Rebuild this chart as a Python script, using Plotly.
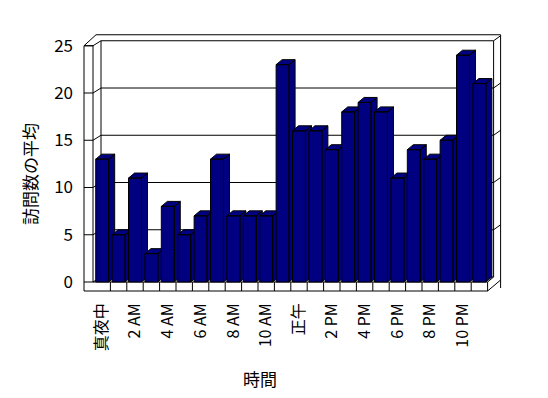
import plotly.graph_objects as go

# ---- data ----
visits = [13, 5, 11, 3, 8, 5, 7, 13, 7, 7, 7, 23,
          16, 16, 14, 18, 19, 18, 11, 14, 13, 15, 24, 21]
tick_labels = ["真夜中", "2 AM", "4 AM", "6 AM", "8 AM", "10 AM",
               "正午", "2 PM", "4 PM", "6 PM", "8 PM", "10 PM"]
y_ticks = [0, 5, 10, 15, 20, 25]
x_title = "時間"
y_title = "訪問数の平均"

# ---- style / geometry constants ----
CAT_PX = 16.4      # pixels per category
UNIT_PX = 9.45     # pixels per value unit
BAR_W = 0.79
BAR_DX = 6 / CAT_PX
BAR_DY = 5 / UNIT_PX
WALL_DX = 8 / CAT_PX
WALL_DY = 5 / UNIT_PX
NAVY = "#000080"
FONT = "Noto Sans CJK JP"

n = len(visits)
ymax = max(y_ticks)

fig = go.Figure()

# bars as 3D boxes (front, side, top), drawn left to right
for i, v in enumerate(visits):
    x0, x1 = i - BAR_W / 2, i + BAR_W / 2
    xs = [x0, x1, x1, x0, x0, None,
          x1, x1 + BAR_DX, x1 + BAR_DX, x1, x1, None,
          x0, x1, x1 + BAR_DX, x0 + BAR_DX, x0]
    ys = [0, 0, v, v, 0, None,
          0, BAR_DY, v + BAR_DY, v, 0, None,
          v, v, v + BAR_DY, v + BAR_DY, v]
    fig.add_trace(go.Scatter(x=xs, y=ys, mode="lines", fill="toself",
                             fillcolor=NAVY, line=dict(color="black", width=1),
                             hoverinfo="skip", showlegend=False))

# ---- frame (walls / floor) ----
x_wall_out = -0.5 - 10 / CAT_PX
x_wall_in = -0.5 - 1 / CAT_PX
x_back_l = x_wall_in + WALL_DX
x_floor_r = n - 0.5
x_back_r = x_floor_r + 6 / CAT_PX
x_back_r_out = x_back_r + 7 / CAT_PX
y_floor_bot = -9 / UNIT_PX
y_top_out = ymax + 11 / UNIT_PX
x_top_out_l = x_wall_out + 12 / CAT_PX

shapes = []


def seg(xa, ya, xb, yb):
    shapes.append(dict(type="line", xref="x", yref="y", x0=xa, y0=ya, x1=xb, y1=yb,
                       line=dict(color="black", width=1), layer="below"))


# left wall front strip
seg(x_wall_out, ymax, x_wall_out, y_floor_bot)
seg(x_wall_in, ymax, x_wall_in, 0)
seg(x_wall_out, ymax, x_wall_in, ymax)
# top edges
seg(x_wall_out, ymax, x_top_out_l, y_top_out)
seg(x_top_out_l, y_top_out, x_back_r_out, y_top_out)
seg(x_back_r_out, y_top_out, x_back_r_out, WALL_DY - 11 / UNIT_PX + 0)
seg(x_back_r, ymax + WALL_DY, x_back_r_out, ymax + WALL_DY + 5 / UNIT_PX)
# back wall inner edges
seg(x_back_l, ymax + WALL_DY, x_back_l, WALL_DY)
seg(x_back_r, ymax + WALL_DY, x_back_r, WALL_DY)
# floor front strip
seg(x_wall_out, y_floor_bot, x_floor_r, y_floor_bot)
seg(x_wall_in, 0, x_floor_r, 0)
seg(x_floor_r, 0, x_floor_r, y_floor_bot)
seg(x_floor_r, y_floor_bot, x_back_r_out, y_floor_bot + 11 / UNIT_PX)
seg(x_floor_r, 0, x_back_r, WALL_DY)
for k in range(n - 1):
    seg(k + 0.5, 0, k + 0.5, y_floor_bot)
# gridlines on the back wall with the wall ticks
for t in y_ticks:
    seg(x_wall_out, t, x_wall_in, t)
    seg(x_wall_in, t, x_back_l, t + WALL_DY)
    seg(x_back_l, t + WALL_DY, x_back_r, t + WALL_DY)
    if 0 < t < ymax:
        seg(x_back_r, t + WALL_DY, x_back_r_out, t + 2 * WALL_DY)

# ---- layout ----
L, R, T, B = 80, 42, 28, 103
W, H = 548, 398
x_range = [(L - 102.2) / CAT_PX, (W - R - 102.2) / CAT_PX]
y_range = [(282 - (H - B)) / UNIT_PX, (282 - T) / UNIT_PX]

fig.update_layout(
    width=W, height=H,
    margin=dict(l=L, r=R, t=T, b=B, pad=0),
    paper_bgcolor="white", plot_bgcolor="white",
    font=dict(family=FONT, color="black", size=16),
    shapes=shapes,
    showlegend=False,
    xaxis=dict(range=x_range, showgrid=False, zeroline=False, showline=False,
               tickmode="array", tickvals=list(range(0, n, 2)), ticktext=tick_labels,
               tickangle=-90, ticks="", ticklabelstandoff=4,
               tickfont=dict(family=FONT, size=16, color="black"), fixedrange=True),
    yaxis=dict(range=y_range, showgrid=False, zeroline=False, showline=False,
               tickmode="array", tickvals=y_ticks, ticks="", ticklabelstandoff=6,
               tickfont=dict(family=FONT, size=17, color="black"), fixedrange=True),
    annotations=[
        dict(text=x_title, xref="paper", yref="paper",
             x=(260 - L) / (W - L - R), y=(H - B - 379) / (H - T - B),
             showarrow=False, font=dict(family=FONT, size=17, color="black"),
             xanchor="center", yanchor="middle"),
        dict(text=y_title, xref="paper", yref="paper",
             x=(29 - L) / (W - L - R), y=(H - B - 174) / (H - T - B),
             showarrow=False, textangle=-90, font=dict(family=FONT, size=17, color="black"),
             xanchor="center", yanchor="middle"),
    ],
)

fig.write_html("out.html")
